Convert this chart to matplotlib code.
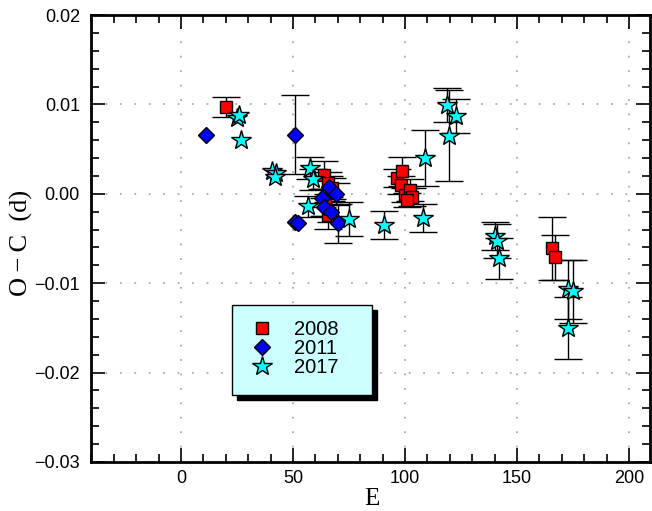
import matplotlib
matplotlib.use("Agg")
import matplotlib.pyplot as plt
from matplotlib.ticker import MultipleLocator, FuncFormatter
from matplotlib.patches import Rectangle

# ---------------- data ----------------
E_2008 = [20.1, 63.8, 65.5, 67.5, 64.5, 65.8, 96.6, 98.7, 98.2, 100.0, 102.2, 103.1, 100.9, 165.6, 167.0]
OC_2008 = [0.0097, 0.0021, 0.0012, 0.0006, -0.0010, -0.0024, 0.0018, 0.0025, 0.0010, -0.0001, 0.0004, -0.0004, -0.0007, -0.0061, -0.0071]
ERR_2008 = [0.0011, 0.0016, 0.0012, 0.0012, 0.0015, 0.0015, 0.0010, 0.0016, 0.0010, 0.0008, 0.0012, 0.0010, 0.0008, 0.0035, 0.0025]

E_2011 = [11.2, 50.9, 51.0, 52.2, 66.1, 69.2, 62.9, 63.8, 66.9, 70.0]
OC_2011 = [0.0066, 0.0066, -0.0032, -0.0033, 0.0008, 0.0000, -0.0005, -0.0015, -0.0020, -0.0033]
ERR_2011 = [0.0, 0.0044, 0.0, 0.0, 0.0012, 0.0012, 0.0010, 0.0010, 0.0012, 0.0022]

E_2017 = [25.0, 25.9, 26.8, 40.6, 42.4, 42.0, 57.6, 59.0, 56.8, 75.0, 90.6, 108.0, 108.9,
          118.8, 122.8, 119.8, 140.2, 141.0, 141.9, 172.8, 175.0, 172.8]
OC_2017 = [0.0085, 0.0088, 0.0060, 0.0026, 0.0023, 0.0019, 0.0029, 0.0016, -0.0014, -0.0028, -0.0035, -0.0027, 0.0040,
           0.0099, 0.0087, 0.0065, -0.0047, -0.0053, -0.0072, -0.0107, -0.0109, -0.0150]
ERR_2017 = [0.0, 0.0, 0.0, 0.0, 0.0, 0.0, 0.0012, 0.0012, 0.0012, 0.0019, 0.0016, 0.0016, 0.0031,
            0.0019, 0.0019, 0.0051, 0.0016, 0.0019, 0.0023, 0.0033, 0.0035, 0.0035]

LABELS = ["2008", "2011", "2017"]
XTICKS = [0, 50, 100, 150, 200]
YTICKS = [-0.03, -0.02, -0.01, 0.00, 0.01, 0.02]

# ---------------- figure ----------------
plt.rcParams['font.family'] = ['Liberation Sans', 'DejaVu Sans']
fig = plt.figure(figsize=(6.52, 5.11), dpi=100)
ax = fig.add_axes([91/652, 1-462/511, 559/652, 447/511])

ebkw = dict(fmt='none', ecolor='black', elinewidth=1.0, capsize=10, capthick=1.0, zorder=2)
for E, OC, ERR in [(E_2008, OC_2008, ERR_2008), (E_2011, OC_2011, ERR_2011), (E_2017, OC_2017, ERR_2017)]:
    sel = [i for i, e in enumerate(ERR) if e > 0]
    ax.errorbar([E[i] for i in sel], [OC[i] for i in sel], yerr=[ERR[i] for i in sel], **ebkw)

h1, = ax.plot(E_2008, OC_2008, 's', ms=9, mfc='#FF0000', mec='black', mew=1.0, ls='none', zorder=3, label=LABELS[0])
h2, = ax.plot(E_2011, OC_2011, 'D', ms=8.5, mfc='#0000FF', mec='black', mew=1.0, ls='none', zorder=4, label=LABELS[1])
h3, = ax.plot(E_2017, OC_2017, '*', ms=15, mfc='#00FFFF', mec='black', mew=1.0, ls='none', zorder=5, label=LABELS[2])

ax.set_xlim(-40.2, 209.4)
ax.set_ylim(-0.03, 0.02)
ax.xaxis.set_minor_locator(MultipleLocator(10))
ax.set_xticks(XTICKS)
ax.yaxis.set_minor_locator(MultipleLocator(0.002))
ax.set_yticks(YTICKS)
ax.yaxis.set_major_formatter(FuncFormatter(lambda v, p: ('%.2f' % v).replace('-', '\u2212')))

ax.tick_params(which='both', direction='in', top=True, right=True, width=1.2, labelsize=13)
ax.tick_params(which='major', length=10)
ax.tick_params(which='minor', length=5.5)
ax.tick_params(axis='y', which='major', pad=8)
ax.tick_params(axis='x', which='major', pad=6)
for s in ax.spines.values():
    s.set_linewidth(2.0)

ax.grid(True, which='major', color='#aaaaaa', linestyle=(0, (1, 7)), linewidth=1.3)
ax.set_axisbelow(True)

fig.text(21/652, 1-243/511, "O\u2009\u2212\u2009C  (d)", rotation=90, ha='center', va='center',
         fontsize=19, family=['Liberation Serif', 'DejaVu Serif'])
fig.text(372/652, 1-499/511, "E", ha='center', va='center', fontsize=18, family='Liberation Serif')

# legend box with shadow
ax.add_patch(Rectangle((0.261, 0.139), 0.251, 0.201, transform=ax.transAxes,
                       facecolor='black', edgecolor='black', zorder=6))
ax.add_patch(Rectangle((0.252, 0.150), 0.251, 0.201, transform=ax.transAxes,
                       facecolor='#CCFFFF', edgecolor='black', linewidth=1.0, zorder=7))
leg = ax.legend(handles=[h1, h2, h3], loc='center left', bbox_to_anchor=(0.27, 0.253),
                frameon=False, fontsize=14.5, labelspacing=0.0, handletextpad=1.0,
                handlelength=1.2, borderaxespad=0)
leg.set_zorder(8)

fig.savefig("out.png", dpi=100)
